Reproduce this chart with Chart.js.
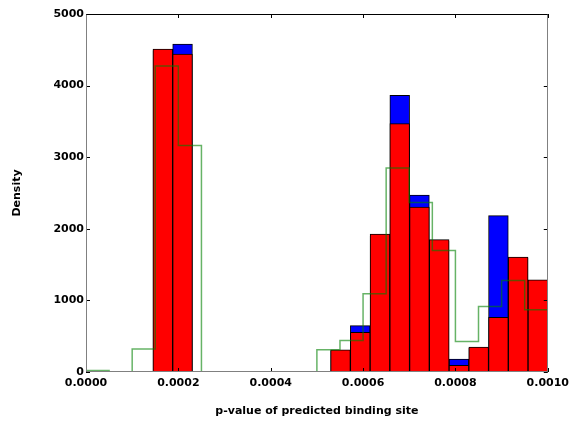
<!DOCTYPE html>
<html>
<head>
<meta charset="utf-8">
<script src="https://cdn.jsdelivr.net/npm/chart.js@4/dist/chart.umd.min.js"></script>
<style>
  body { margin: 0; background: #fff; }
  canvas { display: block; }
</style>
</head>
<body>
<canvas id="hist" width="574" height="421"></canvas>
<script>
// histogram bins (20 bins each)
const binStart = 0.000145;
const binWidth = 0.00004275;
const stepStart = 0;
const stepWidth = 0.00005;

// densities
const blueValues = [4490, 4581, 0, 0, 0, 0, 0, 0, 0, 300, 647, 1900, 3863, 2472, 1830, 181, 330, 2183, 1590, 1280];
const redValues = [4511, 4441, 0, 0, 0, 0, 0, 0, 0, 311, 553, 1927, 3468, 2304, 1848, 92, 349, 763, 1606, 1289];
const greenValues = [22, 0, 321, 4274, 3165, 0, 0, 0, 0, 0, 311, 441, 1093, 2849, 2369, 1698, 427, 916, 1279, 870];

const xTicks = [0, 0.0002, 0.0004, 0.0006, 0.0008, 0.0010];
const yTicks = [0, 1000, 2000, 3000, 4000, 5000];

const xTitle = 'p-value of predicted binding site';
const yTitle = 'Density';

function barPoints(values) {
  return values.map((v, i) => ({ x: binStart + (i + 0.5) * binWidth, y: v }));
}

// outline of a step histogram: each value held from its left edge to its right edge
function stepPoints(values) {
  const pts = [{ x: stepStart, y: 0 }];
  values.forEach((v, i) => {
    pts.push({ x: stepStart + i * stepWidth, y: v });
    pts.push({ x: stepStart + (i + 1) * stepWidth, y: v });
  });
  pts.push({ x: stepStart + values.length * stepWidth, y: 0 });
  return pts;
}

const font = { family: 'DejaVu Sans', weight: 'bold', size: 11 };

// spines + inward tick marks like matplotlib
const frame = {
  id: 'frame',
  afterDatasetsDraw(chart) {
    const { ctx, chartArea: a, scales: { x, y } } = chart;
    ctx.save();
    ctx.lineWidth = 1;
    ctx.strokeStyle = '#000';
    ctx.beginPath();
    xTicks.forEach(v => {
      const px = Math.round(x.getPixelForValue(v)) + 0.5;
      ctx.moveTo(px, a.bottom); ctx.lineTo(px, a.bottom - 4);
      ctx.moveTo(px, a.top); ctx.lineTo(px, a.top + 4);
    });
    yTicks.forEach(v => {
      const py = Math.round(y.getPixelForValue(v)) + 0.5;
      ctx.moveTo(a.left, py); ctx.lineTo(a.left + 4, py);
      ctx.moveTo(a.right, py); ctx.lineTo(a.right - 4, py);
    });
    ctx.stroke();

    const l = Math.round(a.left) + 0.5, r = Math.round(a.right) - 0.5;
    const t = Math.round(a.top) + 0.5, b = Math.round(a.bottom) - 0.5;
    ctx.strokeStyle = '#808080';
    ctx.beginPath();
    ctx.moveTo(l, t); ctx.lineTo(l, b); ctx.lineTo(r, b); ctx.lineTo(r, t);
    ctx.stroke();
    ctx.strokeStyle = '#000';
    ctx.beginPath();
    ctx.moveTo(l, t); ctx.lineTo(r, t);
    ctx.stroke();
    ctx.restore();
  }
};

new Chart(document.getElementById('hist'), {
  type: 'bar',
  data: {
    datasets: [
      {
        type: 'line',
        data: stepPoints(greenValues),
        borderColor: 'rgba(0,128,0,0.6)',
        borderWidth: 1.5,
        pointRadius: 0,
        tension: 0,
        fill: false,
        order: 0
      },
      {
        data: barPoints(redValues),
        backgroundColor: '#ff0000',
        borderColor: '#000',
        borderWidth: { top: 1, left: 1, right: 1, bottom: 0 },
        borderSkipped: false,
        barPercentage: 1,
        categoryPercentage: 1,
        grouped: false,
        order: 1
      },
      {
        data: barPoints(blueValues),
        backgroundColor: '#0000ff',
        borderColor: '#000',
        borderWidth: { top: 1, left: 1, right: 1, bottom: 0 },
        borderSkipped: false,
        barPercentage: 1,
        categoryPercentage: 1,
        grouped: false,
        order: 2
      }
    ]
  },
  options: {
    responsive: false,
    animation: false,
    devicePixelRatio: 1,
    layout: { padding: { top: 14, right: 25, left: 0, bottom: 0 } },
    plugins: { legend: { display: false }, tooltip: { enabled: false } },
    scales: {
      x: {
        type: 'linear',
        offset: false,
        min: 0,
        max: 0.001,
        afterBuildTicks: s => { s.ticks = xTicks.map(v => ({ value: v })); },
        afterFit: s => { s.height = 49; },
        grid: { display: false, drawTicks: false },
        border: { display: false },
        ticks: {
          color: '#000',
          font: font,
          padding: 5,
          maxRotation: 0,
          callback: v => v.toFixed(4)
        },
        title: { display: true, text: xTitle, color: '#000', font: font, padding: { top: 0, bottom: 3 } }
      },
      y: {
        min: 0,
        max: 5000,
        afterBuildTicks: s => { s.ticks = yTicks.map(v => ({ value: v })); },
        afterFit: s => { s.width = 86; },
        grid: { display: false, drawTicks: false },
        border: { display: false },
        ticks: { color: '#000', font: font, padding: 2, callback: v => String(v) },
        title: { display: true, text: yTitle, color: '#000', font: font, padding: { top: 11, bottom: 0 } }
      }
    }
  },
  plugins: [frame]
});
</script>
</body>
</html>
